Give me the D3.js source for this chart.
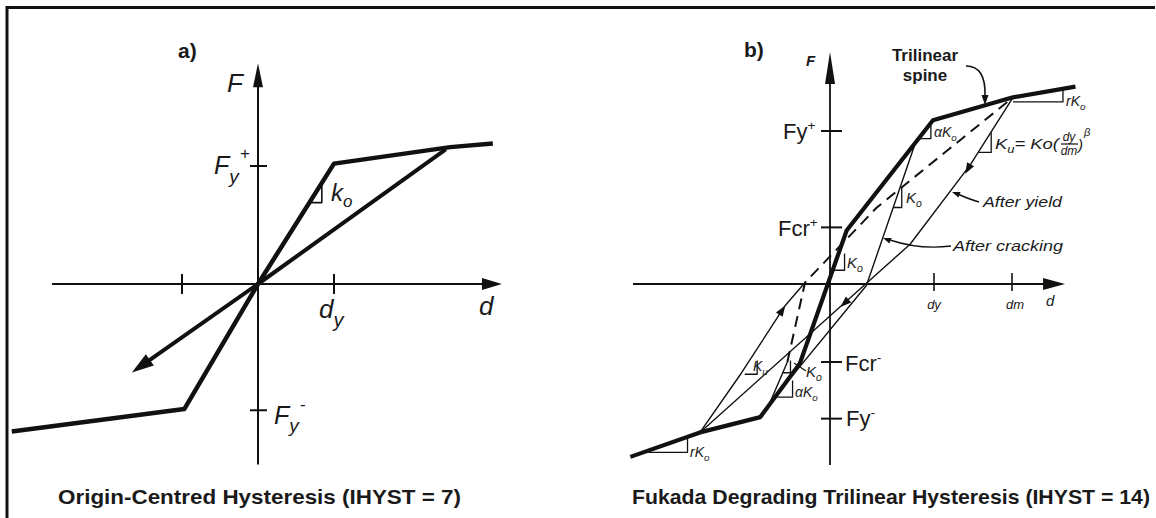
<!DOCTYPE html>
<html lang="en">
<head>
<meta charset="UTF-8">
<title>Hysteresis models</title>
<script src="https://d3js.org/d3.v7.min.js"></script>
<style>
    body { margin: 0; background: #fff; }
    svg { display: block; }
    text { font-family: "Liberation Sans", Arial, sans-serif; fill: #1a1a1a; }
    .it { font-style: italic; }
    .bold { font-weight: bold; }
    .title { font-weight: bold; font-size: 21px; }
</style>
</head>
<body>
<svg id="chart" width="1156" height="518"></svg>
<script>
// ---- panel a: origin-centred (d in units of dy, F in units of Fy+) ----
var spineA = [[-3.24, -1.25], [-0.97, -1.06], [0, 0], [1, 1.02], [2.53, 1.16], [3.09, 1.19]];
var unloadA = [[2.47, 1.14], [0, 0], [-1.66, -0.75]];
var ticksAx = [-1, 1];
var ticksAy = [1, -1.07];
var triA = [[[0.66, 0.69], [0.84, 0.69], [0.84, 0.87]]];

// ---- panel b: Fukada trilinear (d in units of dy, F in units of Fy+) ----
var spineB = [[-1.92, -1.13], [-1.25, -0.97], [-0.67, -0.87], [-0.29, -0.52],
              [0.16, 0.35], [0.99, 1.07], [1.76, 1.22], [2.36, 1.29]];
var yieldDown = [[1.76, 1.22], [1.35, 0.78], [0.77, 0.26], [0.31, -0.02], [-1.25, -0.97]];
var yieldUp = [[-1.25, -0.97], [-0.85, -0.58], [-0.43, -0.14], [-0.24, 0.01]];
var crackLoop = [[0.82, 0.92], [0.35, -0.01], [-0.58, -0.78], [-0.41, -0.51]];
var dashedB = [[-0.41, -0.51], [-0.24, 0.01], [0.45, 0.50], [1.76, 1.22]];
var ticksBx = [1, 1.75];
var ticksBy = [1, 0.37, -0.51, -0.88];
var triB = [
    [[1.76, 1.19], [2.24, 1.19], [2.24, 1.28]],
    [[-1.77, -1.10], [-1.37, -1.10], [-1.37, -1.0]],
    [[0.84, 0.95], [0.97, 0.95], [0.97, 1.06]],
    [[1.43, 0.86], [1.55, 0.86], [1.55, 0.99]],
    [[0.61, 0.50], [0.69, 0.50], [0.69, 0.63]],
    [[0.03, 0.09], [0.14, 0.09], [0.14, 0.20]],
    [[-0.82, -0.59], [-0.70, -0.59], [-0.70, -0.50]],
    [[-0.45, -0.58], [-0.38, -0.58], [-0.38, -0.50]],
    [[-0.51, -0.74], [-0.36, -0.74], [-0.36, -0.63]]
];
var arrowsB = [
    [[1.35, 0.78], [1.30, 0.72]],
    [[0.31, -0.02], [0.10, -0.15]],
    [[-0.85, -0.58], [-0.43, -0.14]]
];

var svg = d3.select("#chart");
var ink = "#111";

// frame
svg.append("path").attr("d", "M7,518V7.5H1155").attr("fill", "none")
    .attr("stroke", ink).attr("stroke-width", 3);

function head(g, tx, ty, fx, fy, len, half) {
    var a = Math.atan2(ty - fy, tx - fx);
    var bx = tx - len * Math.cos(a), by = ty - len * Math.sin(a);
    var px = -Math.sin(a) * half, py = Math.cos(a) * half;
    g.append("path")
        .attr("d", "M" + tx + "," + ty + "L" + (bx + px) + "," + (by + py) + "L" + (bx - px) + "," + (by - py) + "Z")
        .attr("fill", ink);
}

function poly(g, data, x, y, w, dash) {
    var line = d3.line().x(function (d) { return x(d[0]); }).y(function (d) { return y(d[1]); });
    var p = g.append("path").datum(data).attr("d", line)
        .attr("fill", "none").attr("stroke", ink).attr("stroke-width", w)
        .attr("stroke-linejoin", "round");
    if (dash) p.attr("stroke-dasharray", dash);
    return p;
}

// ================= panel a =================
var xa = d3.scaleLinear().domain([0, 1]).range([258, 334]);
var ya = d3.scaleLinear().domain([0, 1]).range([284, 166]);
var ga = svg.append("g");

ga.append("line").attr("x1", xa(-2.71)).attr("x2", xa(3.21) - 10).attr("y1", ya(0)).attr("y2", ya(0))
    .attr("stroke", ink).attr("stroke-width", 2);
head(ga, xa(3.21), ya(0), xa(0), ya(0), 20, 6);
ga.append("line").attr("x1", xa(0)).attr("x2", xa(0)).attr("y1", ya(-1.53)).attr("y2", ya(1.87) + 10)
    .attr("stroke", ink).attr("stroke-width", 2);
head(ga, xa(0), ya(1.87), xa(0), ya(0), 24, 5);

ticksAx.forEach(function (t) {
    ga.append("line").attr("x1", xa(t)).attr("x2", xa(t)).attr("y1", ya(0) - 10).attr("y2", ya(0) + 10)
        .attr("stroke", ink).attr("stroke-width", 2);
});
ticksAy.forEach(function (t) {
    ga.append("line").attr("x1", xa(0) - 8).attr("x2", xa(0) + 9).attr("y1", ya(t)).attr("y2", ya(t))
        .attr("stroke", ink).attr("stroke-width", 2);
});

poly(ga, spineA, xa, ya, 4.5);
poly(ga, unloadA.slice(0, 2).concat([[unloadA[2][0] + 0.2, unloadA[2][1] + 0.09]]), xa, ya, 4);
head(ga, xa(unloadA[2][0]), ya(unloadA[2][1]), xa(0), ya(0), 22, 7);
triA.forEach(function (t) { poly(ga, t, xa, ya, 1.6); });

ga.append("text").attr("class", "bold").attr("x", 178).attr("y", 58).attr("font-size", 21).text("a)");
ga.append("text").attr("class", "it").attr("x", 227).attr("y", 92).attr("font-size", 26).text("F");
var fyp = ga.append("text").attr("class", "it").attr("x", 214).attr("y", 174).attr("font-size", 25);
fyp.append("tspan").text("F");
fyp.append("tspan").attr("font-size", 19).attr("dy", 9).text("y");
fyp.append("tspan").attr("font-size", 17).attr("dx", 1).attr("dy", -24).text("+");
var fym = ga.append("text").attr("class", "it").attr("x", 274).attr("y", 424).attr("font-size", 25);
fym.append("tspan").text("F");
fym.append("tspan").attr("font-size", 19).attr("dy", 8).text("y");
fym.append("tspan").attr("font-size", 17).attr("dx", 1).attr("dy", -22).text("-");
var dyl = ga.append("text").attr("class", "it").attr("x", 319).attr("y", 318).attr("font-size", 26);
dyl.append("tspan").text("d");
dyl.append("tspan").attr("font-size", 20).attr("dy", 9).text("y");
ga.append("text").attr("class", "it").attr("x", 479).attr("y", 315).attr("font-size", 26).text("d");
var ko = ga.append("text").attr("class", "it").attr("x", 331).attr("y", 201).attr("font-size", 24);
ko.append("tspan").text("k");
ko.append("tspan").attr("font-size", 17).attr("dy", 6).text("o");

ga.append("text").attr("class", "title").attr("x", 58).attr("y", 504)
    .attr("textLength", 403).attr("lengthAdjust", "spacingAndGlyphs")
    .text("Origin-Centred Hysteresis (IHYST = 7)");

// ================= panel b =================
var xb = d3.scaleLinear().domain([0, 1]).range([830, 934]);
var yb = d3.scaleLinear().domain([0, 1]).range([284, 131]);
var gb = svg.append("g");

gb.append("line").attr("x1", xb(-1.894)).attr("x2", xb(2.26) - 10).attr("y1", yb(0)).attr("y2", yb(0))
    .attr("stroke", ink).attr("stroke-width", 1.8);
head(gb, xb(2.26), yb(0), xb(0), yb(0), 22, 6);
gb.append("line").attr("x1", xb(0)).attr("x2", xb(0)).attr("y1", yb(-1.183)).attr("y2", yb(1.516) + 10)
    .attr("stroke", ink).attr("stroke-width", 1.8);
head(gb, xb(0), yb(1.516), xb(0), yb(0), 32, 5);

ticksBx.forEach(function (t) {
    gb.append("line").attr("x1", xb(t)).attr("x2", xb(t)).attr("y1", yb(0) - 11).attr("y2", yb(0) + 7)
        .attr("stroke", ink).attr("stroke-width", 1.6);
});
ticksBy.forEach(function (t) {
    gb.append("line").attr("x1", xb(0) - 9).attr("x2", xb(0) + 12).attr("y1", yb(t)).attr("y2", yb(t))
        .attr("stroke", ink).attr("stroke-width", 2);
});

poly(gb, dashedB, xb, yb, 2, "11,7");
poly(gb, yieldDown, xb, yb, 1.4);
poly(gb, yieldUp, xb, yb, 1.4);
poly(gb, crackLoop, xb, yb, 1.4);
poly(gb, spineB, xb, yb, 4.2);
triB.forEach(function (t) { poly(gb, t, xb, yb, 1.3); });
arrowsB.forEach(function (a) {
    head(gb, xb(a[1][0]), yb(a[1][1]), xb(a[0][0]), yb(a[0][1]), 11, 4);
});

// leaders
gb.append("path").attr("d", "M966,66 Q986,66 985,96").attr("fill", "none").attr("stroke", ink).attr("stroke-width", 1.6);
head(gb, 985, 105, 985, 92, 10, 3.5);
gb.append("path").attr("d", "M979,202 Q966,198 958,194").attr("fill", "none").attr("stroke", ink).attr("stroke-width", 1.4);
head(gb, 952, 192, 960, 195, 8, 3);
gb.append("path").attr("d", "M951,246 Q920,250 890,240").attr("fill", "none").attr("stroke", ink).attr("stroke-width", 1.4);
head(gb, 883, 238, 891, 241, 8, 3);
gb.append("line").attr("x1", 794).attr("y1", 363).attr("x2", 806).attr("y2", 371).attr("stroke", ink).attr("stroke-width", 1.2);

gb.append("text").attr("class", "bold").attr("x", 744).attr("y", 57).attr("font-size", 21).text("b)");
gb.append("text").attr("class", "it bold").attr("x", 806).attr("y", 66).attr("font-size", 15).text("F");
gb.append("text").attr("class", "bold").attr("x", 925).attr("y", 61).attr("font-size", 17)
    .attr("text-anchor", "middle").text("Trilinear");
gb.append("text").attr("class", "bold").attr("x", 925).attr("y", 81).attr("font-size", 17)
    .attr("text-anchor", "middle").text("spine");

function supLabel(x, y, main, sup, size) {
    var t = gb.append("text").attr("x", x).attr("y", y).attr("font-size", size);
    t.append("tspan").text(main);
    t.append("tspan").attr("font-size", size * 0.62).attr("dy", -size * 0.42).text(sup);
    return t;
}
supLabel(783, 139, "Fy", "+", 22);
supLabel(778, 236, "Fcr", "+", 22);
supLabel(845, 371, "Fcr", "-", 22);
supLabel(846, 426, "Fy", "-", 22);

gb.append("text").attr("class", "it").attr("x", xb(1)).attr("y", 309).attr("font-size", 13)
    .attr("text-anchor", "middle").text("dy");
gb.append("text").attr("class", "it").attr("x", xb(1.75) + 3).attr("y", 309).attr("font-size", 13)
    .attr("text-anchor", "middle").text("dm");
gb.append("text").attr("class", "it").attr("x", 1046).attr("y", 306).attr("font-size", 15).text("d");

function kLabel(x, y, pre, sub, size) {
    var t = gb.append("text").attr("class", "it").attr("x", x).attr("y", y).attr("font-size", size);
    t.append("tspan").text(pre);
    t.append("tspan").attr("font-size", size * 0.7).attr("dy", size * 0.25).text(sub);
    return t;
}
kLabel(934, 137, "\u03b1K", "o", 14);
kLabel(1066, 106, "rK", "o", 14);
kLabel(906, 203, "K", "o", 15);
kLabel(847, 268, "K", "o", 15);
kLabel(753, 371, "K", "u", 14);
kLabel(806, 377, "K", "o", 15);
kLabel(795, 397, "\u03b1K", "o", 14);
kLabel(690, 457, "rK", "o", 14);

var ku = kLabel(995, 149, "K", "u", 15);
ku.append("tspan").attr("font-size", 15).attr("dy", -3.75).text("= Ko(");
ku.attr("textLength", 64).attr("lengthAdjust", "spacingAndGlyphs");
gb.append("text").attr("class", "it").attr("x", 1069).attr("y", 141).attr("font-size", 12)
    .attr("text-anchor", "middle").text("dy");
gb.append("line").attr("x1", 1061).attr("x2", 1078).attr("y1", 144).attr("y2", 144).attr("stroke", ink).attr("stroke-width", 1.2);
gb.append("text").attr("class", "it").attr("x", 1069).attr("y", 155).attr("font-size", 12)
    .attr("text-anchor", "middle").text("dm");
gb.append("text").attr("class", "it").attr("x", 1078).attr("y", 150).attr("font-size", 15).text(")");
gb.append("text").attr("class", "it").attr("x", 1084).attr("y", 136).attr("font-size", 11).text("\u03b2");

gb.append("text").attr("class", "it").attr("x", 983).attr("y", 207).attr("font-size", 15)
    .attr("textLength", 79).attr("lengthAdjust", "spacingAndGlyphs").text("After yield");
gb.append("text").attr("class", "it").attr("x", 953).attr("y", 251).attr("font-size", 15)
    .attr("textLength", 110).attr("lengthAdjust", "spacingAndGlyphs").text("After cracking");

gb.append("text").attr("class", "title").attr("x", 632).attr("y", 504)
    .attr("textLength", 518).attr("lengthAdjust", "spacingAndGlyphs")
    .text("Fukada Degrading Trilinear Hysteresis (IHYST = 14)");
</script>
</body>
</html>
